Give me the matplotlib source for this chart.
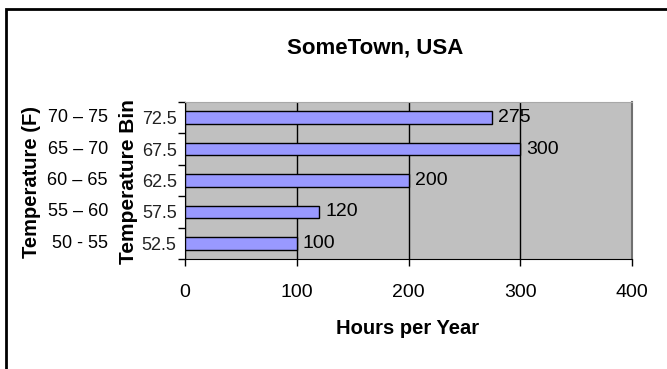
import matplotlib
matplotlib.use("Agg")
import matplotlib.pyplot as plt
import matplotlib.transforms as mtransforms
from matplotlib.patches import Rectangle

plt.rcParams['font.family'] = ['Liberation Sans', 'DejaVu Sans']

# temperature bins and hours spent in each
bin_mids = ['52.5', '57.5', '62.5', '67.5', '72.5']
bin_ranges = ['50 - 55', '55 \u2013 60', '60 \u2013 65', '65 \u2013 70', '70 \u2013 75']
hours = [100, 120, 200, 300, 275]
x_ticks = [0, 100, 200, 300, 400]

W, H = 667, 369
fig = plt.figure(figsize=(W / 100, H / 100), dpi=100)
ax = fig.add_axes([185/W, 110/H, 447/W, 157/H])
ax.set_facecolor('#c0c0c0')

pos = list(range(len(hours)))
ax.barh(pos, hours, height=0.4, color='#9999ff', edgecolor='black', linewidth=1, zorder=3)
for p, h in zip(pos, hours):
    ax.annotate(str(h), (h, p), xytext=(6, 0), textcoords='offset pixels',
                va='center', ha='left', fontsize=14, zorder=4)

ax.set_xlim(0, 400)
ax.set_ylim(-0.5, len(hours) - 0.5)
ax.set_xticks(x_ticks)
ax.set_xticklabels([str(t) for t in x_ticks], fontsize=14)
ax.tick_params(axis='x', direction='out', length=5, width=1, pad=13)
ax.set_yticks(pos)
ax.set_yticklabels(bin_mids, fontsize=13, color='#222222')
ax.tick_params(axis='y', length=0, pad=6)
ax.set_yticks([p - 0.5 for p in pos] + [len(hours) - 0.5], minor=True)
ax.tick_params(axis='y', which='minor', direction='out', length=5, width=1)
ax.grid(axis='x', color='black', linewidth=1, zorder=1)
ax.set_axisbelow(True)

for side in ['left', 'bottom']:
    ax.spines[side].set_color('black')
ax.spines['top'].set_color('#a8a8a8')
ax.spines['right'].set_color('#707070')
ax.spines['right'].set_linewidth(1.5)

# titles and axis labels, placed in figure pixels
fig.text(375/W, 1 - 48/H, 'SomeTown, USA', fontsize=16, fontweight='bold',
         ha='center', va='center')
fig.text(408/W, 1 - 328/H, 'Hours per Year', fontsize=14.5, fontweight='bold',
         ha='center', va='center')
fig.text(128/W, 1 - 182/H, 'Temperature Bin', rotation=90, fontsize=15,
         fontweight='bold', ha='center', va='center')
fig.text(32/W, 1 - 182/H, 'Temperature (F)', rotation=90, fontsize=14.5,
         fontweight='bold', ha='center', va='center')

# second row of labels: the range each bin covers
trans = mtransforms.blended_transform_factory(fig.transFigure, ax.transData)
for p, r in zip(pos, bin_ranges):
    fig.text(108/W, p, r, transform=trans, ha='right', va='center', fontsize=13)

# chart frame, open on the right and bottom
fig.add_artist(Rectangle((6/W, -0.2), 2, 1.2 - 9/H, transform=fig.transFigure,
                         fill=False, edgecolor='black', linewidth=2))

fig.savefig('out.png', dpi=100)
